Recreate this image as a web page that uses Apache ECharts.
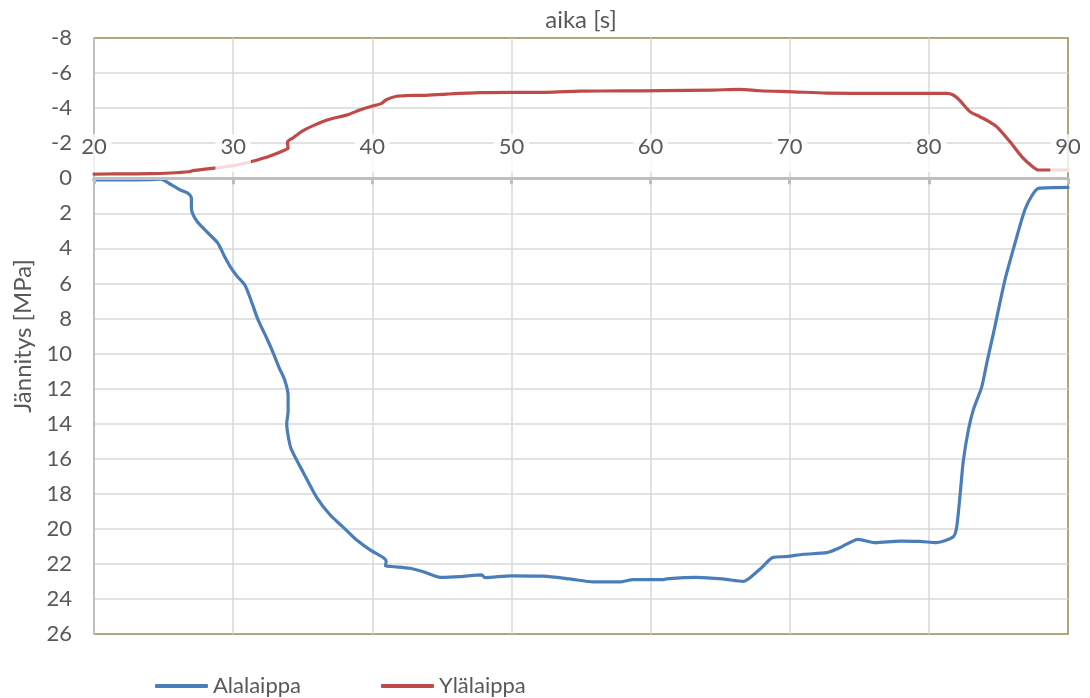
<!DOCTYPE html>
<html>
<head>
<meta charset="utf-8">
<script src="https://cdn.jsdelivr.net/npm/echarts@6/dist/echarts.min.js"></script>
<style>
  html, body { margin: 0; padding: 0; background: #ffffff; }
  #chart { width: 1090px; height: 698px; }
</style>
</head>
<body>
<div id="chart"></div>
<script>
// Time [s] and stress [MPa] samples for the two flanges
const seriesNames = ['Alalaippa', 'Ylälaippa'];

const alalaippa = [
  [20, 0.1], [22, 0.1], [24, 0.08], [24.8, 0.05], [25.4, 0.3], [26.2, 0.67], [26.8, 0.88],
  [27.0, 1.15], [27.0, 1.6], [27.05, 1.95], [27.4, 2.45], [28.1, 3.05], [28.9, 3.7],
  [29.4, 4.5], [29.8, 5.05], [30.3, 5.6], [30.85, 6.1], [31.3, 7.0], [31.8, 8.1],
  [32.4, 9.1], [32.9, 10.0], [33.3, 10.8], [33.7, 11.5], [33.95, 12.4], [33.95, 13.3],
  [33.85, 14.0], [34.0, 14.9], [34.2, 15.5], [35.05, 16.8], [36.0, 18.2], [36.96, 19.2],
  [37.9, 19.9], [38.88, 20.64], [39.84, 21.2], [40.8, 21.65], [41.0, 21.85], [40.95, 22.1],
  [41.4, 22.15], [42.7, 22.25], [43.67, 22.45], [44.9, 22.77], [46.3, 22.73], [47.86, 22.63],
  [48.1, 22.78], [50, 22.68], [52.3, 22.7], [54.2, 22.86], [55.9, 23.03], [57.8, 23.03],
  [58.75, 22.9], [60.9, 22.9], [61.15, 22.85], [63.3, 22.77], [65.2, 22.86], [66.67, 23.0],
  [67.1, 22.82], [68.0, 22.2], [68.8, 21.63], [69.8, 21.58], [70.98, 21.45], [72.66, 21.36],
  [73.6, 21.08], [74.93, 20.6], [76.13, 20.79], [77.93, 20.7], [79.36, 20.72], [80.56, 20.79],
  [81.76, 20.45], [82.0, 19.9], [82.25, 18.0], [82.48, 16.1], [82.84, 14.36], [83.2, 13.2],
  [83.8, 11.9], [84.2, 10.4], [84.64, 8.85], [85.47, 5.8], [86.19, 3.71], [86.9, 1.8],
  [87.4, 1.0], [87.87, 0.58], [90, 0.52]
];

const ylalaippa = [
  [20, -0.24], [22, -0.25], [24, -0.26], [25.5, -0.3], [26.8, -0.37], [27.1, -0.43],
  [28.5, -0.56], [30, -0.71], [31, -0.88], [31.9, -1.08], [32.65, -1.27], [33.6, -1.57],
  [33.95, -1.72], [33.9, -2.05], [34.3, -2.3], [35.0, -2.7], [35.75, -3.0], [36.5, -3.25],
  [37.2, -3.42], [38.15, -3.6], [39.1, -3.89], [39.84, -4.08], [40.67, -4.27], [41.0, -4.48],
  [41.75, -4.68], [42.5, -4.72], [43.67, -4.73], [45.35, -4.8], [47.74, -4.88], [50, -4.9],
  [52.5, -4.9], [54.9, -4.97], [58, -4.98], [60.9, -5.0], [64.5, -5.03], [66.4, -5.07],
  [67.86, -4.99], [70.26, -4.93], [72.65, -4.86], [76.24, -4.84], [79, -4.84], [81.27, -4.84],
  [81.75, -4.75], [82.2, -4.46], [82.95, -3.8], [83.67, -3.51], [84.3, -3.25], [84.87, -2.94],
  [85.83, -2.08], [86.79, -1.13], [87.4, -0.7], [87.87, -0.47], [90, -0.47]
];

// Axis ranges and the time tick labels sitting on the zero line
const timeAxis = { min: 20, max: 90, step: 10 };
const stressAxis = { min: -8, max: 26, step: 2 };
const timeTicks = [20, 30, 40, 50, 60, 70, 80, 90];
const timeTickLabels = ['20', '30', '40', '50', '60', '70', '80', '90'];

const FONT = 'Lato';
const TEXT = '#595959';

const chart = echarts.init(document.getElementById('chart'), null, { renderer: 'canvas' });

chart.setOption({
  animation: false,
  textStyle: { fontFamily: FONT },
  graphic: [
    {
      type: 'text',
      x: 581, y: 8,
      style: {
        text: 'aika [s]',
        fill: TEXT,
        font: '24px ' + FONT,
        align: 'center',
        verticalAlign: 'top'
      }
    }
  ],
  grid: {
    left: 94, right: 22, top: 38, bottom: 64,
    show: true,
    borderColor: '#948a54',
    borderWidth: 1.5,
    backgroundColor: 'transparent'
  },
  legend: [
    {
      data: [seriesNames[0]], left: 150, top: 670,
      icon: 'roundRect', itemWidth: 53, itemHeight: 4, itemGap: 6,
      textStyle: { fontFamily: FONT, fontSize: 22, color: TEXT }
    },
    {
      data: [seriesNames[1]], left: 376, top: 670,
      icon: 'roundRect', itemWidth: 53, itemHeight: 4, itemGap: 6,
      textStyle: { fontFamily: FONT, fontSize: 22, color: TEXT }
    }
  ],
  xAxis: [
    {
      // zero line with downward ticks, drawn over the series
      type: 'value', position: 'bottom',
      min: timeAxis.min, max: timeAxis.max, interval: timeAxis.step,
      axisLine: { show: true, onZero: true, onZeroAxisIndex: 0, lineStyle: { color: '#bfbfbf', width: 3 } },
      axisTick: { show: true, inside: false, length: 6, lineStyle: { color: '#bfbfbf', width: 3 } },
      axisLabel: { show: false },
      splitLine: { show: false },
      z: 3
    },
    {
      // vertical gridlines only, beneath the series
      type: 'value', position: 'top',
      min: timeAxis.min, max: timeAxis.max, interval: timeAxis.step,
      axisLine: { show: false, onZero: false },
      axisTick: { show: false },
      axisLabel: { show: false },
      splitLine: { show: true, showMinLine: false, showMaxLine: false, lineStyle: { color: '#d9d9d9', width: 1.5 } },
      z: 0
    }
  ],
  yAxis: {
    type: 'value',
    inverse: true,
    min: stressAxis.min, max: stressAxis.max, interval: stressAxis.step,
    name: 'Jännitys [MPa]',
    nameLocation: 'middle',
    nameGap: 42,
    nameRotate: 90,
    nameTextStyle: { fontFamily: FONT, fontSize: 24, color: TEXT },
    axisLine: { show: true, onZero: false, lineStyle: { color: '#bfbfbf', width: 2 } },
    axisTick: { show: false },
    axisLabel: { margin: 22, fontFamily: FONT, fontSize: 22, color: TEXT },
    splitLine: { show: true, showMinLine: false, showMaxLine: false, lineStyle: { color: '#d9d9d9', width: 1.5 } }
  },
  series: [
    {
      name: seriesNames[0], type: 'line', xAxisIndex: 0, yAxisIndex: 0,
      data: alalaippa, showSymbol: false, smooth: 0.25,
      lineStyle: { color: '#4a7ebb', width: 3.2, cap: 'round', join: 'round' },
      itemStyle: { color: '#4a7ebb' }, z: 2
    },
    {
      name: seriesNames[1], type: 'line', xAxisIndex: 0, yAxisIndex: 0,
      data: ylalaippa, showSymbol: false, smooth: 0.25,
      lineStyle: { color: '#be4b48', width: 3.2, cap: 'round', join: 'round' },
      itemStyle: { color: '#be4b48' }, z: 2
    },
    {
      // time tick labels placed just above the zero line, on a pale backing
      type: 'custom', xAxisIndex: 0, yAxisIndex: 0,
      data: timeTicks.map(t => [t, 0]),
      silent: true, clip: false, z: 4,
      renderItem: function (params, api) {
        const p = api.coord([api.value(0), api.value(1)]);
        return {
          type: 'text',
          x: p[0], y: p[1] - 6,
          style: {
            text: timeTickLabels[params.dataIndex],
            font: '22px ' + FONT,
            fill: TEXT,
            align: 'center',
            verticalAlign: 'bottom',
            backgroundColor: 'rgba(255,255,255,0.8)',
            padding: [2, 5, 14, 5]
          }
        };
      }
    }
  ]
});
</script>
</body>
</html>
